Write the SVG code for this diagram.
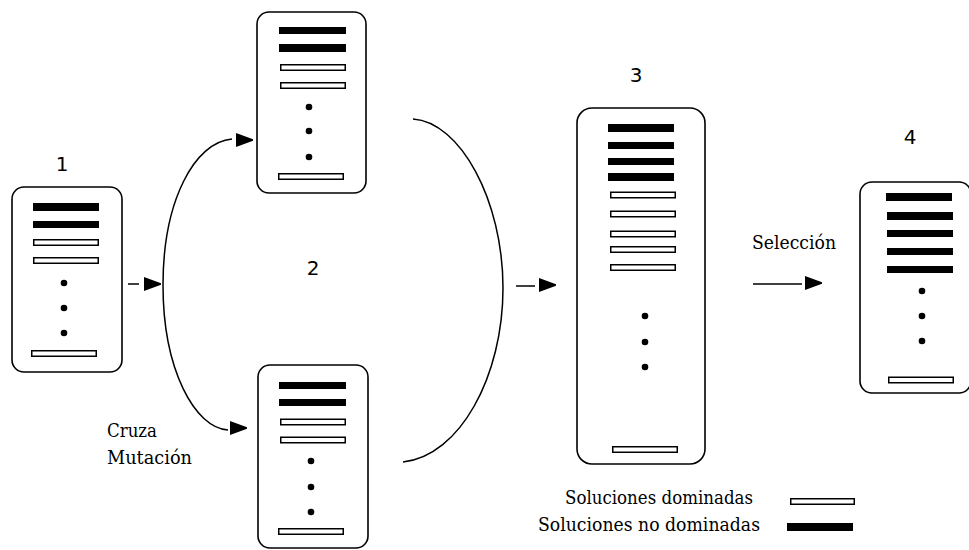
<svg xmlns="http://www.w3.org/2000/svg" xmlns:xlink="http://www.w3.org/1999/xlink" width="969" height="550" viewBox="0 0 969 550">
  <style>
    .box { fill: #ffffff; stroke: #000000; stroke-width: 1.6; }
    .nd { fill: #000000; }
    .dom { fill: #ffffff; stroke: #000000; stroke-width: 1.5; }
    .dot { fill: #000000; }
    .wire { fill: none; stroke: #000000; stroke-width: 1.5; }
    .num { font-family: "DejaVu Sans", "Liberation Sans", sans-serif; font-size: 20px; fill: #000000; text-anchor: middle; }
    .lbl { font-family: "DejaVu Serif", "Liberation Serif", serif; font-size: 18px; fill: #000000; }
  </style>
  <defs>
    <!-- dart-shaped arrowhead, tip at (17,0) -->
    <path id="dart" d="M0,-7 L17,-0.8 L17,0.8 L0,7 Z" fill="#000000"/>
  </defs>

  <!-- population 1 -->
  <g id="pop1">
    <text class="num" x="62" y="171">1</text>
    <rect class="box" x="12" y="187" width="110" height="185" rx="12"/>
    <rect class="nd" x="33" y="203" width="66" height="8"/>
    <rect class="nd" x="33" y="221" width="66" height="7"/>
    <rect class="dom" x="33.75" y="239.75" width="64.5" height="5.5"/>
    <rect class="dom" x="33.75" y="257.75" width="64.5" height="5.5"/>
    <circle class="dot" cx="64" cy="283" r="3.3"/>
    <circle class="dot" cx="64" cy="308" r="3.3"/>
    <circle class="dot" cx="64" cy="333" r="3.3"/>
    <rect class="dom" x="31.75" y="350.75" width="64.5" height="5.5"/>
  </g>

  <!-- offspring (upper) -->
  <g id="pop2a">
    <rect class="box" x="257" y="12" width="109" height="181" rx="12"/>
    <rect class="nd" x="279" y="27" width="67" height="7"/>
    <rect class="nd" x="279" y="44" width="67" height="8"/>
    <rect class="dom" x="280.75" y="64.75" width="64.5" height="5.5"/>
    <rect class="dom" x="280.75" y="82.75" width="64.5" height="5.5"/>
    <circle class="dot" cx="309" cy="107" r="3.3"/>
    <circle class="dot" cx="309" cy="131" r="3.3"/>
    <circle class="dot" cx="309" cy="157" r="3.3"/>
    <rect class="dom" x="278.75" y="173.75" width="64.5" height="5.5"/>
  </g>

  <!-- offspring (lower) -->
  <g id="pop2b">
    <rect class="box" x="258" y="365" width="110" height="183" rx="12"/>
    <rect class="nd" x="279" y="382" width="67" height="7"/>
    <rect class="nd" x="279" y="399" width="67" height="7"/>
    <rect class="dom" x="280.75" y="419.25" width="64.5" height="5.5"/>
    <rect class="dom" x="280.75" y="437.25" width="64.5" height="5.5"/>
    <circle class="dot" cx="311" cy="461" r="3.3"/>
    <circle class="dot" cx="311" cy="487" r="3.3"/>
    <circle class="dot" cx="311" cy="512" r="3.3"/>
    <rect class="dom" x="278.75" y="528.75" width="64.5" height="5.5"/>
  </g>

  <g id="step2">
    <text class="num" x="313" y="275">2</text>
  </g>

  <!-- combined population 3 -->
  <g id="pop3">
    <text class="num" x="636" y="82">3</text>
    <rect class="box" x="577" y="108" width="128" height="356" rx="15"/>
    <rect class="nd" x="608" y="124" width="66" height="8"/>
    <rect class="nd" x="608" y="142" width="66" height="7"/>
    <rect class="nd" x="608" y="158" width="66" height="7"/>
    <rect class="nd" x="608" y="173" width="66" height="8"/>
    <rect class="dom" x="610.75" y="192.25" width="64.5" height="5.5"/>
    <rect class="dom" x="610.75" y="211.25" width="64.5" height="5.5"/>
    <rect class="dom" x="610.75" y="231.25" width="64.5" height="5.5"/>
    <rect class="dom" x="610.75" y="246.75" width="64.5" height="5.5"/>
    <rect class="dom" x="610.75" y="264.75" width="64.5" height="5.5"/>
    <circle class="dot" cx="645" cy="316" r="3.3"/>
    <circle class="dot" cx="645" cy="342" r="3.3"/>
    <circle class="dot" cx="645" cy="367" r="3.3"/>
    <rect class="dom" x="612.75" y="446.75" width="64.5" height="5.5"/>
  </g>

  <!-- selected population 4 -->
  <g id="pop4">
    <text class="num" x="910" y="144">4</text>
    <rect class="box" x="860" y="182" width="111" height="211" rx="12"/>
    <rect class="nd" x="886" y="193" width="66" height="8"/>
    <rect class="nd" x="887" y="212" width="66" height="8"/>
    <rect class="nd" x="887" y="230" width="66" height="7"/>
    <rect class="nd" x="887" y="248" width="66" height="7"/>
    <rect class="nd" x="887" y="266" width="66" height="7"/>
    <circle class="dot" cx="922" cy="291" r="3.3"/>
    <circle class="dot" cx="922" cy="316" r="3.3"/>
    <circle class="dot" cx="922" cy="341" r="3.3"/>
    <rect class="dom" x="888.75" y="377.25" width="64.5" height="5.5"/>
  </g>

  <!-- operator labels -->
  <g id="labels">
    <text class="lbl" x="107" y="437" textLength="50" lengthAdjust="spacingAndGlyphs">Cruza</text>
    <text class="lbl" x="107" y="464" textLength="85" lengthAdjust="spacingAndGlyphs">Mutación</text>
    <text class="lbl" x="752" y="249" textLength="84" lengthAdjust="spacingAndGlyphs">Selección</text>
  </g>

  <!-- legend -->
  <g id="legend">
    <text class="lbl" x="565" y="504" textLength="188" lengthAdjust="spacingAndGlyphs">Soluciones dominadas</text>
    <text class="lbl" x="538" y="531" textLength="222" lengthAdjust="spacingAndGlyphs">Soluciones no dominadas</text>
    <rect class="dom" x="790.75" y="498.75" width="63.5" height="5.5"/>
    <rect class="nd" x="787" y="523" width="66" height="8"/>
  </g>

  <!-- connectors -->
  <g id="connectors">
    <line class="wire" x1="128" y1="284" x2="139" y2="284"/>
    <use xlink:href="#dart" href="#dart" x="144" y="284"/>
    <path class="wire" d="M 232 139 C 195 142, 163 200, 163 285 C 163 370, 195 428, 228 430"/>
    <use xlink:href="#dart" href="#dart" x="236" y="140"/>
    <use xlink:href="#dart" href="#dart" x="230" y="428"/>
    <path class="wire" d="M 413 119 C 460 122, 503 200, 503 288 C 503 376, 460 456, 403 462"/>
    <line class="wire" x1="516" y1="286" x2="535" y2="286"/>
    <use xlink:href="#dart" href="#dart" x="539" y="285"/>
    <line class="wire" x1="753" y1="284" x2="802" y2="284"/>
    <use xlink:href="#dart" href="#dart" x="805" y="283"/>
  </g>
</svg>
